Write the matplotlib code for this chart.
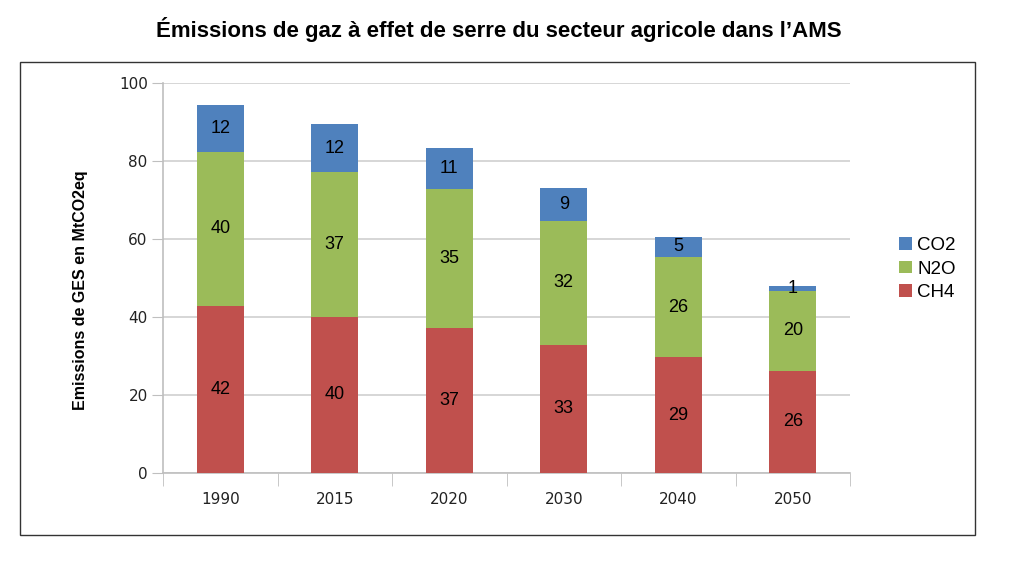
import matplotlib.pyplot as plt
from matplotlib.patches import Rectangle

plt.rcParams['font.family'] = ['Liberation Sans', 'DejaVu Sans']

years = ['1990', '2015', '2020', '2030', '2040', '2050']
ch4 = [42.8, 40.0, 37.2, 32.9, 29.6, 26.1]
n2o = [39.6, 37.2, 35.7, 31.7, 25.8, 20.6]
co2 = [11.9, 12.3, 10.6, 8.6, 5.2, 1.2]
ch4_labels = ['42', '40', '37', '33', '29', '26']
n2o_labels = ['40', '37', '35', '32', '26', '20']
co2_labels = ['12', '12', '11', '9', '5', '1']

col_ch4 = '#C0504D'
col_n2o = '#9BBB59'
col_co2 = '#4F81BD'

fig = plt.figure(figsize=(10.18, 5.8), dpi=100)
W, H = 1018, 580
ax = fig.add_axes([163 / W, 1 - 472.7 / H, 687 / W, 389.4 / H])

# outer frame around chart
fig.patches.append(Rectangle((20 / W, 1 - 535 / H), 955 / W, 473 / H,
                             transform=fig.transFigure, fill=False,
                             edgecolor='#333333', lw=1))

x = list(range(len(years)))
bottom2 = [a + b for a, b in zip(ch4, n2o)]
w = 0.41
b1 = ax.bar(x, ch4, w, color=col_ch4, label='CH4', zorder=3)
b2 = ax.bar(x, n2o, w, bottom=ch4, color=col_n2o, label='N2O', zorder=3)
b3 = ax.bar(x, co2, w, bottom=bottom2, color=col_co2, label='CO2', zorder=3)

for i in x:
    ax.text(i, ch4[i] / 2, ch4_labels[i], ha='center', va='center', fontsize=13, zorder=4)
    ax.text(i, ch4[i] + n2o[i] / 2, n2o_labels[i], ha='center', va='center', fontsize=13, zorder=4)
    ax.text(i, bottom2[i] + co2[i] / 2, co2_labels[i], ha='center', va='center', fontsize=13, zorder=4)

ax.set_xlim(-0.5, len(years) - 0.5)
ax.set_ylim(0, 100)
ax.set_yticks([0, 20, 40, 60, 80, 100])
ax.set_xticks(x)
ax.set_xticklabels(years, family='DejaVu Sans')
ax.set_yticklabels(['0', '20', '40', '60', '80', '100'], family='DejaVu Sans')
ax.set_xticks([i + 0.5 for i in range(-1, len(years))], minor=True)
ax.tick_params(axis='x', which='major', length=0, pad=14, labelsize=11, labelcolor='#222222')
ax.tick_params(axis='x', which='minor', length=9, color='#bfbfbf')
ax.tick_params(axis='y', length=8, color='#bfbfbf', labelsize=11, pad=3, labelcolor='#222222')
ax.grid(axis='y', color='#d0d0d0', lw=1.2, zorder=0)
for s in ['top', 'right']:
    ax.spines[s].set_visible(False)
for s in ['left', 'bottom']:
    ax.spines[s].set_color('#bfbfbf')
    ax.spines[s].set_linewidth(1.2)

fig.text(81 / W, 1 - 290 / H, 'Emissions de GES en MtCO2eq', rotation=90,
         ha='center', va='center', fontsize=11.5, fontweight='bold')
fig.text(499 / W, 1 - 30 / H, 'Émissions de gaz à effet de serre du secteur agricole dans l\u2019AMS',
         ha='center', va='center', fontsize=16, fontweight='bold')

leg = fig.legend(handles=[b3, b2, b1], labels=['CO2', 'N2O', 'CH4'],
                 loc='center left', bbox_to_anchor=(890 / W, 1 - 269 / H),
                 frameon=False, fontsize=13.5, handlelength=0.65, handleheight=0.65,
                 handletextpad=0.3, labelspacing=0.35, borderpad=0)

fig.savefig('out.png', dpi=100)
